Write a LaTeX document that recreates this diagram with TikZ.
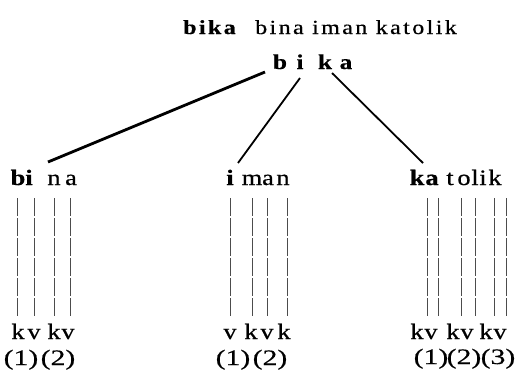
\documentclass[tikz,border=0pt]{standalone}
\usepackage{fontspec}
\setmainfont{Liberation Serif}[FakeStretch=1.2,FakeBold=0.6]
\newfontfamily\titlefont{Liberation Serif}[FakeStretch=1.2,LetterSpace=12,FakeBold=0.6]
\newfontfamily\parfont{Liberation Serif}[FakeStretch=1.35,FakeBold=0.6]
\begin{document}
\begin{tikzpicture}[x=1pt,y=-1pt]
\tikzset{
  ltr/.style={anchor=base, inner sep=0pt, font=\fontsize{22}{26}\selectfont},
  bltr/.style={ltr, font=\fontsize{22}{26}\selectfont\bfseries},
  rootltr/.style={ltr, font=\fontsize{21}{25}\selectfont\bfseries},
  par/.style={anchor=base, inner sep=0pt, font=\parfont\fontsize{22}{26}\selectfont},
  ttl/.style={anchor=base west, inner sep=0pt, font=\titlefont\fontsize{20}{24}\selectfont},
  bar/.style={draw=black!70, line width=0.8pt, dash pattern=on 17.5pt off 2.5pt},
  branch/.style={draw=black, line width=1.8pt},
  thickbranch/.style={draw=black, line width=2.8pt},
}
\useasboundingbox (0,0) rectangle (518,372);
% title
\node[ttl, font=\titlefont\fontsize{20}{24}\selectfont\bfseries] (tbika) at (183,34) {bika};
\node[ttl] (tfull) at (255,34) {bina iman katolik};
% b i k a
\node[rootltr] (rb) at (280,69) {b};
\node[rootltr] (ri) at (300,69) {i};
\node[rootltr] (rk) at (325,69) {k};
\node[rootltr] (ra) at (346,69) {a};
% left group
\node[bltr] (l1) at (18,185) {b};
\node[bltr] (l2) at (29,185) {i};
\node[ltr] (l3) at (54,185) {n};
\node[ltr] (l4) at (71,185) {a};
\node[ltr] (lb1) at (18,339) {k};
\node[ltr] (lb2) at (34,339) {v};
\node[ltr] (lb3) at (54,339) {k};
\node[ltr] (lb4) at (68,339) {v};
\node[par] (lp1) at (21,365) {(1)};
\node[par] (lp2) at (58,365) {(2)};
% middle group
\node[bltr] (m1) at (230,185) {i};
\node[ltr] (m2) at (252,185) {m};
\node[ltr] (m3) at (268,185) {a};
\node[ltr] (m4) at (283,185) {n};
\node[ltr] (mb1) at (230,339) {v};
\node[ltr] (mb2) at (251,339) {k};
\node[ltr] (mb3) at (267,339) {v};
\node[ltr] (mb4) at (284,339) {k};
\node[par] (mp1) at (233,365) {(1)};
\node[par] (mp2) at (270,365) {(2)};
% right group
\node[bltr] (r1) at (417,185) {k};
\node[bltr] (r2) at (432,185) {a};
\node[ltr] (r3) at (450,185) {t};
\node[ltr] (r4) at (464,185) {o};
\node[ltr] (r5) at (475,185) {l};
\node[ltr] (r6) at (483,185) {i};
\node[ltr] (r7) at (495,185) {k};
\node[ltr] (rb1) at (417,339) {k};
\node[ltr] (rb2) at (431,339) {v};
\node[ltr] (rb3) at (453,339) {k};
\node[ltr] (rb4) at (467,339) {v};
\node[ltr] (rb5) at (486,339) {k};
\node[ltr] (rb6) at (500,339) {v};
\node[par] (rp1) at (431,364) {(1)};
\node[par] (rp2) at (464,364) {(2)};
\node[par] (rp3) at (498,364) {(3)};
% bar coordinates
\foreach \n/\x in {a/17,b/34,c/54,d/70,e/230,f/252,g/267,h/287,i/427,j/438,k/461,l/475,m/494,n/506}{
  \coordinate (bt\n) at (\x,198);
  \coordinate (bb\n) at (\x,317);
}
\foreach \n in {a,b,c,d,e,f,g,h,i,j,k,l,m,n}{
  \draw[bar] (bt\n) -- (bb\n);
}
% branch ends
\coordinate (s1) at (265,72);
\coordinate (e1) at (48,162);
\coordinate (s2) at (300,78);
\coordinate (e2) at (238,163);
\coordinate (s3) at (332,73);
\coordinate (e3) at (423,163);
\draw[thickbranch] (s1) -- (e1);
\draw[branch] (s2) -- (e2);
\draw[branch] (s3) -- (e3);
\end{tikzpicture}
\end{document}
